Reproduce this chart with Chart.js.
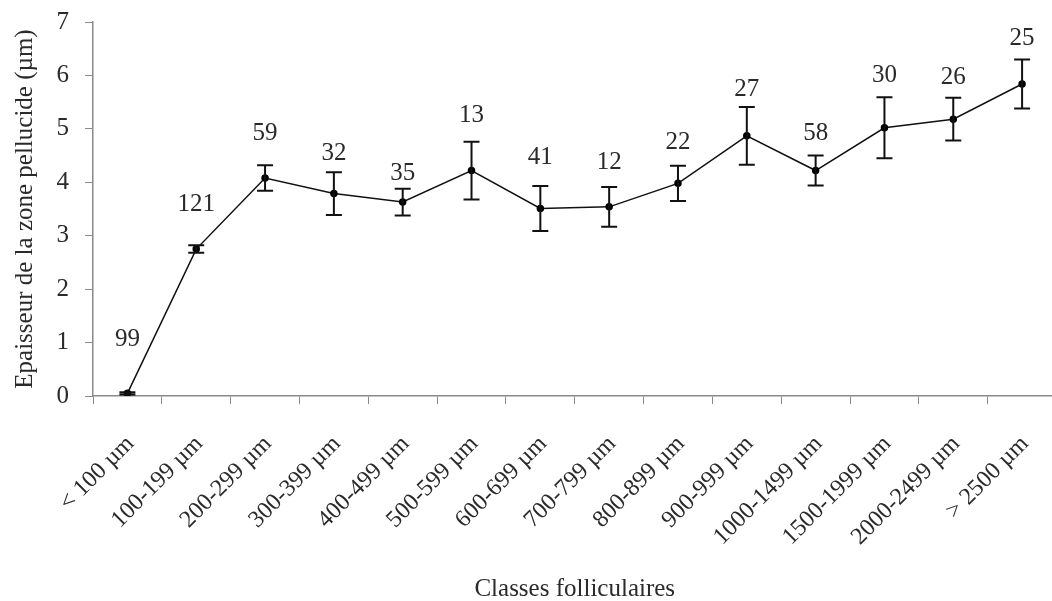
<!DOCTYPE html>
<html>
<head>
<meta charset="utf-8">
<script src="https://cdn.jsdelivr.net/npm/chart.js@4"></script>
<style>
  html, body { margin: 0; padding: 0; background: #fff; overflow: hidden; }
  #wrap { width: 1052px; height: 601px; overflow: hidden; position: relative; }
  canvas { position: absolute; left: 0; top: 0; }
</style>
</head>
<body>
<div id="wrap"><canvas id="myChart" width="1062" height="601"></canvas></div>
<script>
const classes = ['< 100 µm', '100-199 µm', '200-299 µm', '300-399 µm', '400-499 µm', '500-599 µm', '600-699 µm',
    '700-799 µm', '800-899 µm', '900-999 µm', '1000-1499 µm', '1500-1999 µm', '2000-2499 µm', '> 2500 µm']
const thickness = [0.05, 2.75, 4.08, 3.79, 3.63, 4.22, 3.51, 3.54, 3.98, 4.87, 4.22, 5.02, 5.18, 5.84]
const errors = [0.02, 0.07, 0.24, 0.40, 0.25, 0.54, 0.42, 0.37, 0.33, 0.54, 0.28, 0.57, 0.40, 0.46]
// number of follicles per class, and where the number sits (in µm units)
const counts = [99, 121, 59, 32, 35, 13, 41, 12, 22, 27, 58, 30, 26, 25]
const countY = [1.05, 3.59, 4.92, 4.54, 4.17, 5.25, 4.47, 4.37, 4.75, 5.74, 4.92, 6.0, 5.96, 6.69]
const yTicks = [0, 1, 2, 3, 4, 5, 6, 7]

const serif = '"Liberation Serif", "Times New Roman", serif'
const ink = '#2a2a2a'
const axisGrey = '#8a8a8a'

const errorBars = {
    id: 'errorBars',
    afterDatasetsDraw(chart) {
        const ctx = chart.ctx
        const x = chart.scales.x
        const y = chart.scales.y
        ctx.save()
        ctx.strokeStyle = '#111'
        ctx.lineWidth = 2
        for (let i = 0; i < thickness.length; i++) {
            const px = x.getPixelForValue(i)
            const top = y.getPixelForValue(thickness[i] + errors[i])
            const bot = y.getPixelForValue(thickness[i] - errors[i])
            ctx.beginPath()
            ctx.moveTo(px, top); ctx.lineTo(px, bot)
            ctx.moveTo(px - 8, top); ctx.lineTo(px + 8, top)
            ctx.moveTo(px - 8, bot); ctx.lineTo(px + 8, bot)
            ctx.stroke()
        }
        ctx.fillStyle = ink
        ctx.font = '25px ' + serif
        ctx.textAlign = 'center'
        ctx.textBaseline = 'middle'
        for (let i = 0; i < counts.length; i++) {
            ctx.fillText(String(counts[i]), x.getPixelForValue(i), y.getPixelForValue(countY[i]))
        }
        ctx.restore()
    }
}

const chart = new Chart(document.querySelector('#myChart').getContext('2d'), {
    type: 'line',
    data: {
        labels: classes,
        datasets: [{
            data: thickness,
            borderColor: '#111',
            borderWidth: 1.5,
            pointRadius: 3,
            pointBackgroundColor: '#000',
            pointBorderColor: '#000',
            tension: 0
        }]
    },
    options: {
        responsive: false,
        animation: false,
        devicePixelRatio: 1,
        layout: { padding: { top: 22, right: 2, left: 0, bottom: 0 } },
        plugins: { legend: { display: false }, tooltip: { enabled: false } },
        scales: {
            x: {
                offset: true,
                grid: { offset: true, drawOnChartArea: false, drawTicks: true, tickLength: 8, color: axisGrey },
                border: { color: axisGrey, width: 1.5 },
                ticks: {
                    autoSkip: false, minRotation: 45, maxRotation: 45, padding: 26, labelOffset: 3,
                    color: ink, font: { family: serif, size: 24 }
                },
                title: {
                    display: true, text: 'Classes folliculaires', color: ink,
                    font: { family: serif, size: 25 }, padding: { top: 0, bottom: -3 }
                },
                afterFit: (s) => { s.height = 205; s.paddingLeft = 0; s.paddingRight = 0 }
            },
            y: {
                min: 0, max: 7,
                afterBuildTicks: (s) => { s.ticks = yTicks.map(v => ({ value: v })) },
                grid: { drawOnChartArea: false, drawTicks: true, tickLength: 8, color: axisGrey },
                border: { color: axisGrey, width: 1.5 },
                ticks: { padding: 16, color: ink, font: { family: serif, size: 25 } },
                title: {
                    display: true, text: 'Epaisseur de la zone pellucide (µm)', color: ink,
                    font: { family: serif, size: 25 }, padding: { top: 10, bottom: 0 }
                },
                afterFit: (s) => { s.width = 93; s.paddingTop = 0; s.paddingBottom = 0 }
            }
        }
    },
    plugins: [errorBars]
})
</script>
</body>
</html>
